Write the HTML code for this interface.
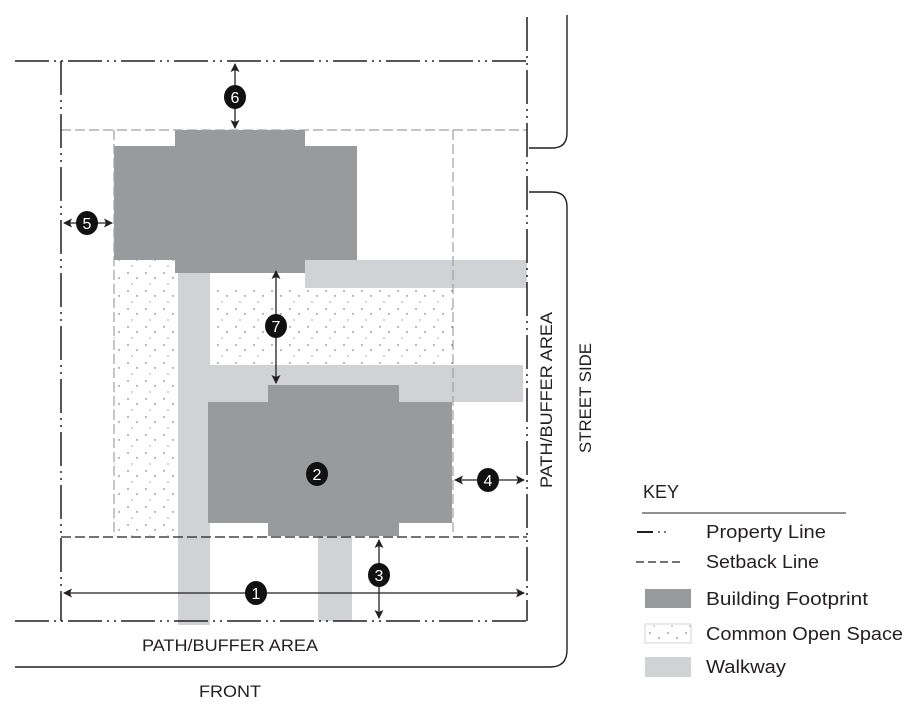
<!DOCTYPE html>
<html><head><meta charset="utf-8"><style>
html,body{margin:0;padding:0;background:#fff;}
svg{display:block;}
text{font-family:"Liberation Sans",sans-serif;fill:#231f20;}
</style></head><body>
<svg width="918" height="711" viewBox="0 0 918 711" xmlns="http://www.w3.org/2000/svg">
<defs>
<pattern id="dots" width="18" height="18" patternUnits="userSpaceOnUse">
<rect width="18" height="18" fill="#fff"/>
<circle cx="2" cy="3" r="0.7" fill="#555"/><circle cx="11" cy="8" r="0.7" fill="#555"/>
<circle cx="6" cy="14" r="0.6" fill="#666"/>
</pattern>
<marker id="ah" markerWidth="9" markerHeight="9" refX="8" refY="4.5" orient="auto-start-reverse" markerUnits="userSpaceOnUse">
<path d="M0,0 L9,4.5 L0,9 L2,4.5 Z" fill="#231f20"/></marker>
</defs>
<rect x="114" y="260" width="64" height="276" fill="url(#dots)"/>
<rect x="210" y="288" width="243" height="77" fill="url(#dots)"/>
<g fill="#d1d2d4">
<rect x="305" y="260" width="222" height="28"/>
<rect x="178" y="270" width="32" height="355"/>
<rect x="210" y="365" width="313" height="37"/>
<rect x="318" y="535" width="34" height="86"/>
</g>
<g fill="#999a9c">
<rect x="114" y="146" width="243" height="114"/>
<rect x="175" y="130" width="130" height="143"/>
<rect x="208" y="402" width="244" height="121"/>
<rect x="268" y="385" width="131" height="151"/>
</g>
<g stroke="#a0a0a0" stroke-width="1.2" stroke-dasharray="10,4" fill="none">
<line x1="61" y1="130" x2="527" y2="130"/>
<line x1="114" y1="130" x2="114" y2="536"/>
<line x1="453" y1="130" x2="453" y2="536"/>
</g>
<line x1="61" y1="537" x2="527" y2="537" stroke="#231f20" stroke-width="1.3" stroke-dasharray="10,4"/>
<g stroke="#231f20" stroke-width="1.5" stroke-dasharray="34,5,2,5,2,5" fill="none">
<line x1="15" y1="61" x2="527" y2="61"/>
<line x1="15" y1="621" x2="527" y2="621"/>
<line x1="527" y1="17" x2="527" y2="621"/>
<line x1="61" y1="61" x2="61" y2="621"/>
</g>
<g stroke="#231f20" stroke-width="1.4" fill="none">
<path d="M567,15 L567,133 Q567,148 552,148 L529,148"/>
<path d="M529,192 L552,192 Q567,192 567,207 L567,650 Q567,667 550,667 L15,667"/>
</g>
<g stroke="#231f20" stroke-width="1.3" fill="none">
<line x1="64" y1="593" x2="524" y2="593" marker-start="url(#ah)" marker-end="url(#ah)"/>
<line x1="379" y1="540" x2="379" y2="618" marker-start="url(#ah)" marker-end="url(#ah)"/>
<line x1="455" y1="480" x2="524" y2="480" marker-start="url(#ah)" marker-end="url(#ah)"/>
<line x1="64" y1="223" x2="112" y2="223" marker-start="url(#ah)" marker-end="url(#ah)"/>
<line x1="235" y1="64" x2="235" y2="128" marker-start="url(#ah)" marker-end="url(#ah)"/>
<line x1="276" y1="271" x2="276" y2="383" marker-start="url(#ah)" marker-end="url(#ah)"/>
</g>
<g fill="#111">
<ellipse cx="256" cy="593" rx="11" ry="12"/>
<ellipse cx="317" cy="474" rx="11" ry="12"/>
<ellipse cx="379" cy="575" rx="11" ry="12"/>
<ellipse cx="488" cy="480" rx="11" ry="12"/>
<ellipse cx="87" cy="223" rx="11" ry="12"/>
<ellipse cx="235" cy="97" rx="11" ry="12"/>
<ellipse cx="276" cy="326" rx="11" ry="12"/>
</g>
<g font-size="16" text-anchor="middle">
<text x="256" y="599" style="fill:#fff">1</text>
<text x="317" y="480" style="fill:#fff">2</text>
<text x="379" y="581" style="fill:#fff">3</text>
<text x="488" y="486" style="fill:#fff">4</text>
<text x="87" y="229" style="fill:#fff">5</text>
<text x="235" y="103" style="fill:#fff">6</text>
<text x="276" y="332" style="fill:#fff">7</text>
</g>
<text x="230" y="651" font-size="17" text-anchor="middle" textLength="176" lengthAdjust="spacingAndGlyphs">PATH/BUFFER AREA</text>
<text x="230" y="697" font-size="17" text-anchor="middle" textLength="62" lengthAdjust="spacingAndGlyphs">FRONT</text>
<text transform="translate(552,400) rotate(-90)" font-size="17" text-anchor="middle" textLength="176" lengthAdjust="spacingAndGlyphs">PATH/BUFFER AREA</text>
<text transform="translate(591,398) rotate(-90)" font-size="17" text-anchor="middle" textLength="110" lengthAdjust="spacingAndGlyphs">STREET SIDE</text>
<text x="643" y="498" font-size="18">KEY</text>
<line x1="642" y1="513" x2="846" y2="513" stroke="#231f20" stroke-width="1"/>
<line x1="637" y1="532" x2="653" y2="532" stroke="#231f20" stroke-width="2"/>
<circle cx="659" cy="532" r="0.9" fill="#231f20"/><circle cx="665" cy="532" r="0.9" fill="#231f20"/>
<line x1="636" y1="562" x2="683" y2="562" stroke="#231f20" stroke-width="1.3" stroke-dasharray="8,4"/>
<rect x="645" y="589" width="46" height="19" fill="#999a9c"/>
<rect x="645" y="624" width="46" height="19" fill="url(#dots)" stroke="#ccc" stroke-width="0.8"/>
<rect x="645" y="657" width="46" height="20" fill="#d1d2d4"/>
<g font-size="18">
<text x="706" y="538" textLength="120" lengthAdjust="spacingAndGlyphs">Property Line</text>
<text x="706" y="568" textLength="113" lengthAdjust="spacingAndGlyphs">Setback Line</text>
<text x="706" y="605" textLength="162" lengthAdjust="spacingAndGlyphs">Building Footprint</text>
<text x="706" y="640" textLength="197" lengthAdjust="spacingAndGlyphs">Common Open Space</text>
<text x="706" y="673" textLength="80" lengthAdjust="spacingAndGlyphs">Walkway</text>
</g>
</svg>
</body></html>
